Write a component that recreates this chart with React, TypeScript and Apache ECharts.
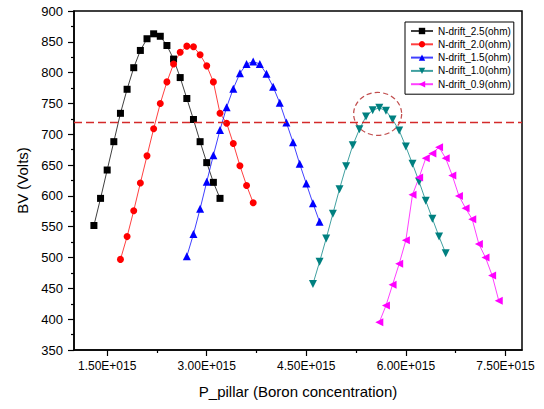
import React, { useEffect, useRef } from "react";
import * as echarts from "echarts";

// x values in units of 1e15 (Boron concentration)
const xBlack = [1.3, 1.4, 1.5, 1.6, 1.7, 1.8, 1.9, 2.0, 2.1, 2.2, 2.3, 2.4, 2.5, 2.6, 2.7, 2.8, 2.9, 3.0, 3.1, 3.2];
const yBlack = [552, 596, 642, 688, 734, 773, 808, 836, 855, 863, 859, 844, 822, 792, 758, 724, 688, 654, 622, 596];

const xRed = [1.7, 1.8, 1.9, 2.0, 2.1, 2.2, 2.3, 2.4, 2.5, 2.6, 2.7, 2.8, 2.9, 3.0, 3.1, 3.2, 3.3, 3.4, 3.5, 3.6, 3.7];
const yRed = [497, 534, 576, 621, 665, 709, 750, 785, 814, 833, 843, 842, 829, 811, 785, 734, 718, 685, 649, 617, 589];

const xBlue = [2.7, 2.8, 2.9, 3.0, 3.1, 3.2, 3.3, 3.4, 3.5, 3.6, 3.7, 3.8, 3.9, 4.0, 4.1, 4.2, 4.3, 4.4, 4.5, 4.6, 4.7];
const yBlue = [502, 538, 579, 623, 666, 707, 744, 774, 799, 814, 818, 814, 798, 777, 751, 719, 687, 652, 620, 588, 558];

const xTeal = [4.6, 4.7, 4.8, 4.9, 5.0, 5.1, 5.2, 5.3, 5.4, 5.5, 5.6, 5.7, 5.8, 5.9, 6.0, 6.1, 6.2, 6.3, 6.4, 6.5, 6.6];
const yTeal = [457, 493, 531, 571, 611, 648, 682, 708, 729, 739, 743, 738, 724, 706, 680, 652, 623, 592, 563, 534, 507];

const xMagenta = [5.6, 5.7, 5.8, 5.9, 6.0, 6.1, 6.2, 6.3, 6.4, 6.5, 6.6, 6.7, 6.8, 6.9, 7.0, 7.1, 7.2, 7.3, 7.4];
const yMagenta = [395, 422, 456, 490, 528, 602, 630, 661, 669, 679, 661, 633, 600, 580, 562, 522, 500, 471, 430];

const seriesNames = ["N-drift_2.5(ohm)", "N-drift_2.0(ohm)", "N-drift_1.5(ohm)", "N-drift_1.0(ohm)", "N-drift_0.9(ohm)"];

const xTickValues = [1.5, 3.0, 4.5, 6.0, 7.5];
const xMinorTickValues = [2.25, 3.75, 5.25, 6.75];

const thresholdBV = 720;
const circleCenter = [5.575, 733];

const FONT = "'Liberation Sans', Arial, sans-serif";

export default function App() {
  const ref = useRef<HTMLDivElement>(null);
  useEffect(() => {
    if (!ref.current) return;
    document.body.style.margin = "0";
    const chart = echarts.init(ref.current, undefined, { renderer: "svg" });
    const mk = (xs: number[], ys: number[]) => xs.map((x, i) => [x, ys[i]]);
    const lineSeries = (
      name: string,
      xs: number[],
      ys: number[],
      color: string,
      symbol: string,
      size: number,
      rotate: number
    ) => ({
      name,
      type: "line",
      data: mk(xs, ys),
      symbol,
      symbolSize: size,
      symbolRotate: rotate,
      itemStyle: { color },
      lineStyle: { color, width: 1, opacity: 0.75 },
      z: 3,
    });
    const black = lineSeries(seriesNames[0], xBlack, yBlack, "#000000", "rect", 7, 0);
    (black as any).markLine = {
      silent: true,
      symbol: ["none", "none"],
      label: { show: false },
      lineStyle: { color: "#d42a2a", width: 1.3, type: [8, 4] },
      data: [{ yAxis: thresholdBV }],
    };
    chart.setOption({
      animation: false,
      grid: {
        left: 74,
        top: 11,
        width: 448,
        height: 339,
        show: true,
        borderColor: "#000",
        borderWidth: 1.5,
        containLabel: false,
      },
      legend: {
        orient: "vertical",
        left: 405,
        top: 22,
        data: seriesNames,
        itemWidth: 22,
        itemHeight: 8,
        itemGap: 1.3,
        padding: [3, 3, 4, 5],
        borderColor: "#000",
        borderWidth: 1,
        backgroundColor: "#fff",
        textStyle: { fontFamily: FONT, fontSize: 10, color: "#000", lineHeight: 12 },
      },
      xAxis: [
        {
          type: "value",
          min: 1.0,
          max: 7.75,
          position: "bottom",
          name: "P_pillar (Boron concentration)",
          nameLocation: "middle",
          nameGap: 34,
          nameTextStyle: { fontFamily: FONT, fontSize: 15, color: "#000" },
          axisLine: { show: true, lineStyle: { color: "#000", width: 1.5 } },
          axisTick: { show: true, customValues: xTickValues, length: 6, lineStyle: { color: "#000", width: 1.2 } },
          axisLabel: {
            customValues: xTickValues,
            margin: 10,
            fontFamily: FONT,
            fontSize: 12,
            color: "#000",
            formatter: (v: number) => v.toFixed(2) + "E+015",
          },
          splitLine: { show: false },
        },
        {
          type: "value",
          min: 1.0,
          max: 7.75,
          position: "bottom",
          axisLine: { show: false },
          axisTick: { show: true, customValues: xMinorTickValues, length: 3, lineStyle: { color: "#000", width: 1.2 } },
          axisLabel: { show: false },
          splitLine: { show: false },
        },
      ],
      yAxis: {
        type: "value",
        min: 350,
        max: 900,
        interval: 50,
        name: "BV (Volts)",
        nameLocation: "middle",
        nameGap: 44,
        nameTextStyle: { fontFamily: FONT, fontSize: 15, color: "#000" },
        axisLine: { show: true, lineStyle: { color: "#000", width: 1.5 } },
        axisTick: { show: true, length: 6, lineStyle: { color: "#000", width: 1.2 } },
        minorTick: { show: true, splitNumber: 2, length: 3, lineStyle: { color: "#000", width: 1.2 } },
        axisLabel: { margin: 11, fontFamily: FONT, fontSize: 13, color: "#000" },
        splitLine: { show: false },
      },
      series: [
        black,
        lineSeries(seriesNames[1], xRed, yRed, "#ff0000", "circle", 7, 0),
        lineSeries(seriesNames[2], xBlue, yBlue, "#0000ff", "triangle", 8, 0),
        lineSeries(seriesNames[3], xTeal, yTeal, "#008080", "triangle", 8, 180),
        lineSeries(seriesNames[4], xMagenta, yMagenta, "#ff00ff", "triangle", 8, 90),
        {
          name: "highlight",
          type: "scatter",
          data: [circleCenter],
          symbol: "circle",
          symbolSize: [48, 43],
          silent: true,
          itemStyle: { color: "transparent", borderColor: "#b22222", borderWidth: 1.2, borderType: [5, 3] },
          z: 2,
        },
      ],
    });
    return () => chart.dispose();
  }, []);
  return <div ref={ref} style={{ width: 544, height: 409 }} />;
}
